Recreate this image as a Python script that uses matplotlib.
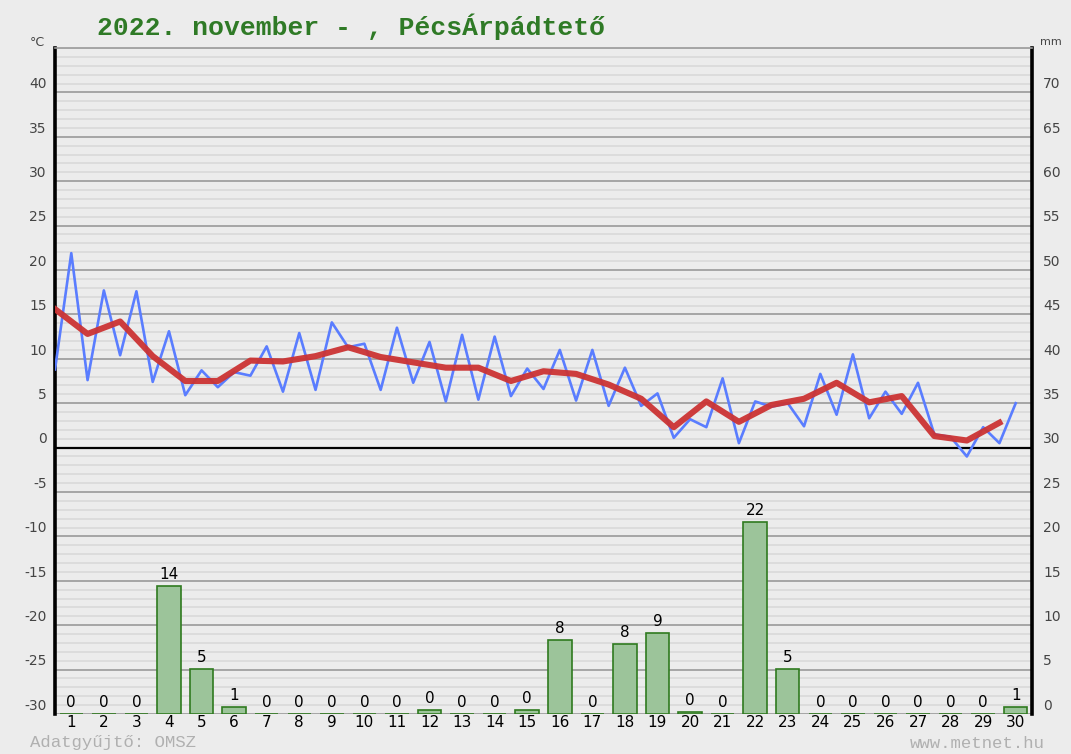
import matplotlib
matplotlib.use("Agg")
import matplotlib.pyplot as plt
import matplotlib.transforms as mtransforms
import numpy as np

# daily axis
days = list(range(1, 31))

# temperature readings every half day (0.5 .. 30.0), degC
temp_values = [8.8, 21.9, 7.6, 17.7, 10.4, 17.6, 7.4, 13.1, 5.9, 8.7,
               6.8, 8.5, 8.1, 11.4, 6.3, 12.9, 6.5, 14.1, 11.3, 11.7,
               6.5, 13.5, 7.3, 11.9, 5.2, 12.7, 5.4, 12.5, 5.8, 8.9,
               6.6, 11.0, 5.3, 11.0, 4.7, 9.0, 4.7, 6.1, 1.1, 3.2,
               2.3, 7.8, 0.5, 5.2, 4.6, 5.0, 2.4, 8.3, 3.7, 10.5,
               3.3, 6.3, 3.8, 7.3, 1.5, 1.2, -1.0, 2.3, 0.5, 5.0]
temp_times = np.arange(len(temp_values)) * 0.5 + 0.5

# daily mean temperature, plotted between days (0.5 .. 29.5)
mean_values = [15.6, 12.8, 14.2, 10.3, 7.5, 7.5, 9.8, 9.7, 10.3, 11.3,
               10.2, 9.6, 9.0, 9.0, 7.5, 8.6, 8.3, 7.1, 5.5, 2.3,
               5.2, 2.9, 4.8, 5.5, 7.3, 5.1, 5.8, 1.3, 0.8, 2.8]
mean_times = np.arange(len(mean_values)) + 0.5

# daily precipitation, mm
precip = [0, 0, 0, 14.4, 5.1, 0.8, 0, 0, 0, 0,
          0, 0.4, 0, 0, 0.4, 8.3, 0, 7.9, 9.1, 0.2,
          0, 21.6, 5.1, 0, 0, 0, 0, 0, 0, 0.8]

left_ticks = list(range(-30, 41, 5))
right_ticks = list(range(0, 71, 5))

title = "2022. november - , PécsÁrpádtető"

bg = "#ececec"
fig = plt.figure(figsize=(10.71, 7.54), dpi=100, facecolor=bg)
ax = fig.add_axes([55 / 1071, 1 - 714 / 754, 977 / 1071, 666 / 754])
ax.set_facecolor(bg)
ax.set_xlim(0.5, 30.5)
ax.set_ylim(-30, 45)

# grid
ax.set_yticks(left_ticks)
ax.set_yticks(np.arange(-30, 46, 1), minor=True)
ax.grid(which="minor", axis="y", color="#dcdcdc", lw=1.4, zorder=0)
ax.grid(which="major", axis="y", color="#9a9a9a", lw=1.2, zorder=0)
ax.axhline(0, color="black", lw=1.6, zorder=1)
ax.set_axisbelow(True)

for side in ("left", "right"):
    ax.spines[side].set_linewidth(2.6)
    ax.spines[side].set_color("black")
ax.spines["top"].set_color("#9a9a9a")
ax.spines["top"].set_linewidth(1.2)
ax.spines["bottom"].set_visible(False)

ax.tick_params(axis="y", which="both", length=0, labelsize=10, labelcolor="#444444", pad=6)
ax.set_yticklabels([str(v) for v in left_ticks])
up = mtransforms.ScaledTranslation(0, 7 / 72, fig.dpi_scale_trans)
for lbl in ax.get_yticklabels():
    lbl.set_transform(lbl.get_transform() + up)

ax.set_xticks(days)
ax.set_xticklabels([str(d) for d in days])
ax.tick_params(axis="x", length=0, labelsize=11, labelcolor="black", pad=1)

# precipitation on the mm scale
ax2 = ax.twinx()
ax2.set_ylim(0, 75)
ax2.set_yticks(right_ticks)
ax2.set_yticklabels([str(v) for v in right_ticks])
ax2.tick_params(axis="y", length=0, labelsize=10, labelcolor="#444444", pad=8)
for lbl in ax2.get_yticklabels():
    lbl.set_transform(lbl.get_transform() + up)
for s in ax2.spines.values():
    s.set_visible(False)

bars = ax2.bar(days, precip, width=0.72, color="#9cc49a", edgecolor="#2f7a1f",
               lw=1.2, zorder=2)
ax2.bar_label(bars, labels=[str(int(round(v))) for v in precip], padding=3,
              fontsize=11, color="black")

# temperature lines
ax2.plot(temp_times, np.array(temp_values) + 30, color="#5a7dff", lw=1.9,
         zorder=3)
ax2.plot(mean_times, np.array(mean_values) + 30, color="#cc3333", lw=4.4,
         zorder=4, alpha=0.95)
ax2.set_xlim(0.5, 30.5)

# texts
fig.text(97 / 1071, 1 - 27 / 754, title, fontsize=19, fontweight="bold",
         family="Liberation Mono", color="#2f7a26", va="center", ha="left")
fig.text(30 / 1071, 1 - 42 / 754, "°C", fontsize=9, color="#444444", va="center")
fig.text(1040 / 1071, 1 - 42 / 754, "mm", fontsize=8, color="#444444", va="center")
fig.text(30 / 1071, 1 - 743 / 754, "Adatgyűjtő: OMSZ", fontsize=12.5,
         family="Liberation Mono", color="#b0b0b0", va="center")
fig.text(1045 / 1071, 1 - 743 / 754, "www.metnet.hu", fontsize=12.5,
         family="Liberation Mono", color="#b0b0b0", va="center", ha="right")

fig.savefig("out.png", dpi=100, facecolor=bg)
